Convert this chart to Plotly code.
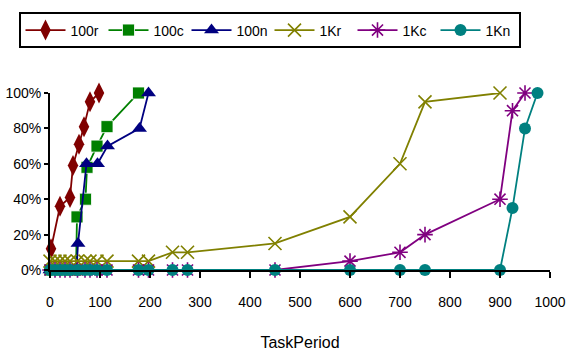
import plotly.graph_objects as go

# Task-period completion curves for the 100 and 1K workloads
x_100r = [2, 20, 40, 46, 58, 68, 80, 98]
y_100r = [12, 36, 41, 59, 71, 81, 95, 100]

x_100c = [0, 20, 40, 52, 54, 71, 74, 94, 114, 177]
y_100c = [0, 0, 0, 0, 30, 40, 58, 70, 81, 100]

x_100n = [0, 20, 40, 53, 56, 73, 95, 115, 179, 197]
y_100n = [0, 0, 0, 0, 15, 60, 60, 70, 80, 100]

x_1kr = [0, 10, 20, 30, 40, 55, 70, 80, 94, 114, 177, 197, 245, 275, 450, 600, 700, 750, 900]
y_1kr = [5, 5, 5, 5, 5, 5, 5, 5, 5, 5, 5, 5, 10, 10, 15, 30, 60, 95, 100]

x_1kc = [0, 10, 20, 30, 40, 55, 70, 80, 94, 114, 177, 197, 245, 275, 450, 600, 700, 750, 900, 925, 950]
y_1kc = [0, 0, 0, 0, 0, 0, 0, 0, 0, 0, 0, 0, 0, 0, 0, 5, 10, 20, 40, 90, 100]

x_1kn = [0, 10, 20, 30, 40, 55, 70, 80, 94, 114, 177, 197, 245, 275, 450, 600, 700, 750, 900, 925, 950, 975]
y_1kn = [0, 0, 0, 0, 0, 0, 0, 0, 0, 0, 0, 0, 0, 0, 0, 0, 0, 0, 0, 35, 80, 100]

x_ticks = list(range(0, 1001, 100))
y_ticks = [0, 20, 40, 60, 80, 100]
y_tick_text = [f"{v}%" for v in y_ticks]

FONT = "Liberation Sans, Arial, sans-serif"

series = [
    ("100r", x_100r, y_100r, "#800000", dict(symbol="diamond-tall", size=15)),
    ("100c", x_100c, y_100c, "#008000", dict(symbol="square", size=12,
                                              line=dict(color="white", width=0.8))),
    ("100n", x_100n, y_100n, "#000080", dict(symbol="triangle-up", size=13)),
    ("1Kr", x_1kr, y_1kr, "#808000", dict(symbol="x-thin-open", size=13,
                                           line=dict(color="#808000", width=1.6))),
    ("1Kc", x_1kc, y_1kc, "#800080", dict(symbol="asterisk-open", size=13,
                                           line=dict(color="#800080", width=1.6))),
    ("1Kn", x_1kn, y_1kn, "#008080", dict(symbol="circle", size=12)),
]

fig = go.Figure()
for name, xs, ys, color, mk in series:
    marker = dict(color=color, **mk)
    fig.add_trace(go.Scatter(
        x=xs, y=ys, name=name, mode="lines+markers",
        line=dict(color=color, width=1.8),
        marker=marker, cliponaxis=False,
    ))

fig.update_layout(
    width=578, height=352,
    margin=dict(l=50, r=28, t=93, b=82),
    paper_bgcolor="white", plot_bgcolor="white",
    font=dict(family=FONT, size=14, color="black"),
    showlegend=True,
    legend=dict(
        orientation="h", x=-0.063, y=1.455, xanchor="left", yanchor="top",
        bordercolor="black", borderwidth=2, bgcolor="white",
        font=dict(family=FONT, size=14, color="black"),
        entrywidth=28, entrywidthmode="pixels", itemwidth=40,
    ),
    xaxis=dict(
        range=[0, 1000], tickvals=x_ticks, showgrid=False, zeroline=False,
        showline=True, linecolor="black", linewidth=2,
        ticks="outside", ticklen=6, tickwidth=2, tickcolor="black",
        ticklabelstandoff=12, automargin=False,
        title=dict(text="TaskPeriod", standoff=28, font=dict(size=16)),
    ),
    yaxis=dict(
        range=[0, 100], tickvals=y_ticks, ticktext=y_tick_text, showgrid=False,
        zeroline=False, showline=True, linecolor="black", linewidth=2,
        ticks="outside", ticklen=4, tickwidth=2, tickcolor="black",
        automargin=False,
    ),
)

fig.write_html("out.html")
